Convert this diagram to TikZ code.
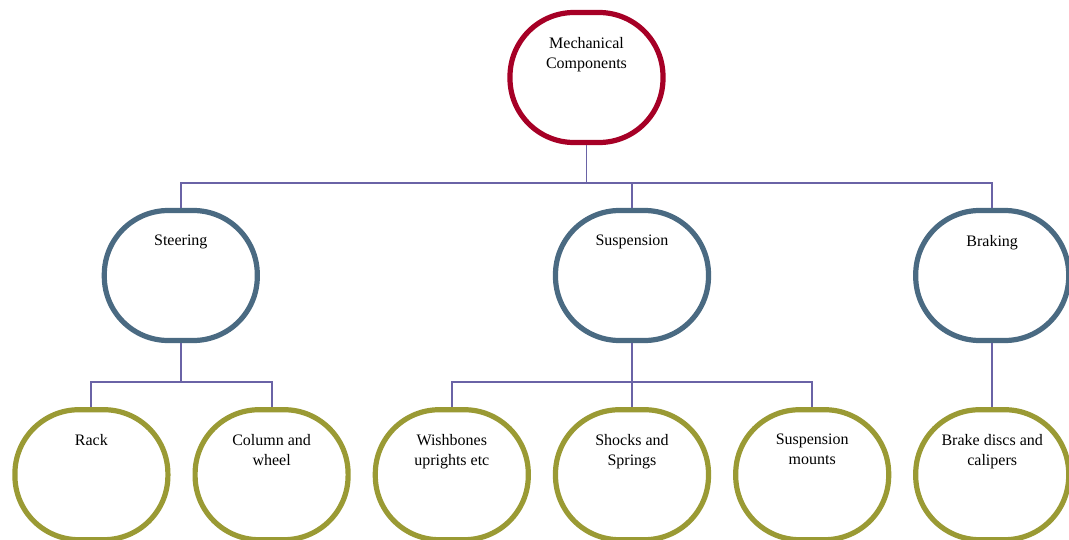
\documentclass[tikz,border=0pt]{standalone}
\usepackage{fontspec}
\setmainfont{Liberation Serif}
\usepackage{tikz}
\usetikzlibrary{positioning}
\definecolor{topred}{RGB}{166,0,38}
\definecolor{midblue}{RGB}{74,106,130}
\definecolor{lowolive}{RGB}{154,154,52}
\definecolor{linkline}{RGB}{106,99,166}
\tikzstyle{part}=[rectangle, draw, line width=5.2pt, rounded corners=64pt, minimum width=153pt, minimum height=130pt, fill=white]
\tikzstyle{toppart}=[part, draw=topred]
\tikzstyle{midpart}=[part, draw=midblue]
\tikzstyle{lowpart}=[part, draw=lowolive]
\tikzstyle{caption}=[anchor=north, align=center, inner sep=0pt, label distance=-27pt, font=\fontsize{16}{20}\selectfont]
\tikzstyle{link}=[draw=linkline, line width=1.9pt]

\begin{document}
\begin{tikzpicture}[x=1pt, y=-1pt]
    \clip (0,0) rectangle (1069,539);
    \node (mc) [toppart, label={[caption]north:Mechanical\\Components}] at (586.5,77.5) {};
    \node (susp) [midpart, label={[caption]north:Suspension}] at (632,275.5) {};
    \node (steer) [midpart, left=293pt of susp, label={[caption]north:Steering}] {};
    \node (brake) [midpart, right=202pt of susp, label={[caption]north:Braking}] {};
    % bottom row
    \node (shocks) [lowpart, below=64pt of susp, label={[caption]north:Shocks and\\Springs}] {};
    \node (wish) [lowpart, left=22pt of shocks, label={[caption]north:Wishbones\\uprights etc}] {};
    \node (mounts) [lowpart, right=22pt of shocks, label={[caption]north:Suspension\\mounts}] {};
    \node (column) [lowpart, left=22pt of wish, label={[caption]north:Column and\\wheel}] {};
    \node (rack) [lowpart, left=22pt of column, label={[caption]north:Rack}] {};
    \node (discs) [lowpart, below=64pt of brake, label={[caption]north:Brake discs and\\calipers}] {};

    \path[link] (mc.south) -- ++(0,38) -| (steer.north);
    \path[link] (mc.south) -- ++(0,38) -| (susp.north);
    \path[link] (mc.south) -- ++(0,38) -| (brake.north);
    \path[link] (steer.south) -- ++(0,39) -| (rack.north);
    \path[link] (steer.south) -- ++(0,39) -| (column.north);
    \path[link] (susp.south) -- ++(0,39) -| (wish.north);
    \path[link] (susp.south) -- ++(0,39) -| (shocks.north);
    \path[link] (susp.south) -- ++(0,39) -| (mounts.north);
    \path[link] (brake.south) -- (discs.north);
\end{tikzpicture}
\end{document}
